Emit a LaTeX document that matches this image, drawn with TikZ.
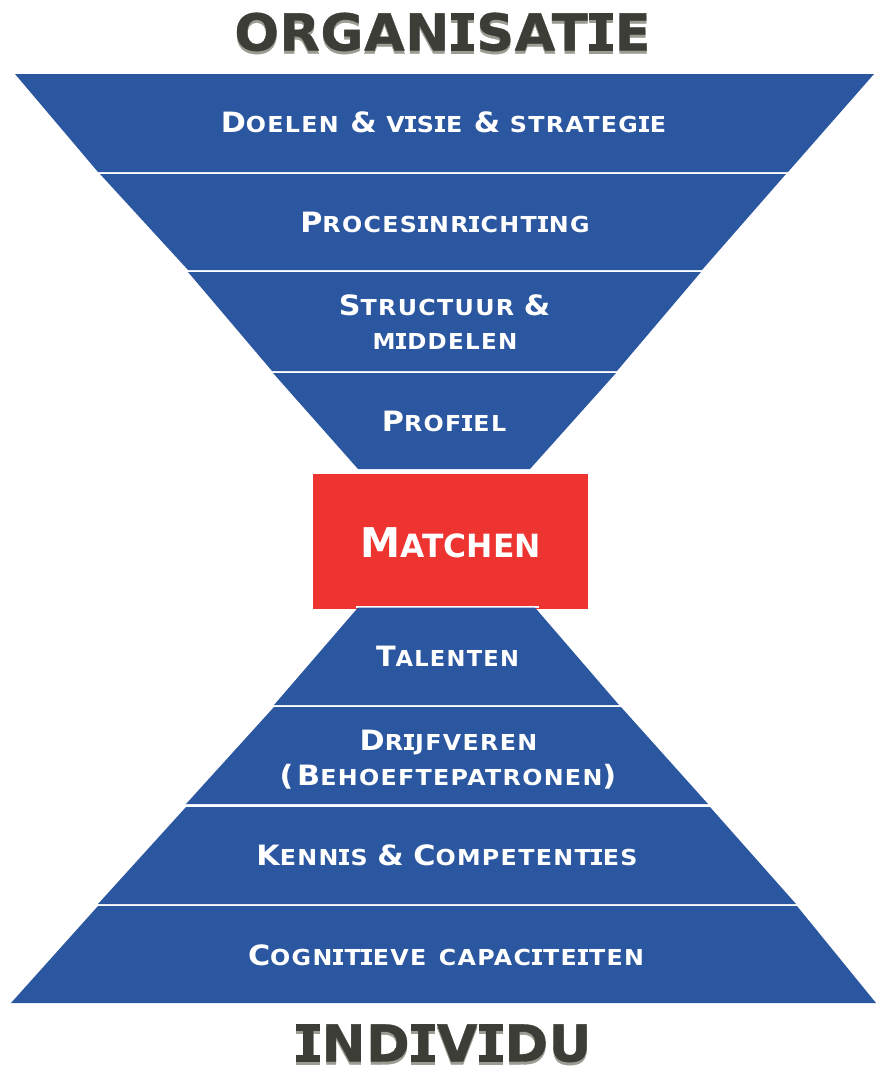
\documentclass[tikz,border=0pt]{standalone}
\usepackage{fontspec}
\setmainfont{DejaVu Sans}[BoldFont=* Bold]
\newfontfamily\labelfont{DejaVu Sans Bold}[LetterSpace=6,FakeStretch=1.08]
\newfontfamily\matchfont{DejaVu Sans Bold}[LetterSpace=0.5,FakeStretch=0.98]
\newfontfamily\titlefont{DejaVu Sans Bold}[FakeBold=0.7,LetterSpace=1,FakeStretch=1.03]
\newcommand{\vI}{\mbox{\kern.03em\rlap{\rule{.46em}{.135em}}\rlap{\rule[.594em]{.46em}{.135em}}\kern.044em I\kern.074em}}
\newcommand{\bgl}[1]{{\fontsize{28}{28}\selectfont #1}}
\newcommand{\bgm}[1]{{\fontsize{41}{41}\selectfont #1}}
\newcommand{\shadowed}[1]{\rlap{\raisebox{-3pt}{\color{fnshadow}#1}}#1}
\definecolor{fnblue}{HTML}{2B56A0}
\definecolor{fnred}{HTML}{EE3431}
\definecolor{fndark}{HTML}{3C3D36}
\definecolor{fnshadow}{HTML}{9C9C92}
\tikzset{
  x=1pt,y=-1pt,
  layer/.style={fill=fnblue},
  lab/.style={anchor=base,text=white,inner sep=0pt,font=\labelfont\fontsize{22}{22}\selectfont},
  ttl/.style={anchor=base,text=fndark,inner sep=0pt,font=\titlefont\fontsize{51}{51}\selectfont},
}
\begin{document}
\begin{tikzpicture}
\useasboundingbox (0,0) rectangle (876,1068);
\fill[white] (0,0) rectangle (876,1068);
% upper funnel
\fill[layer] (15,74) -- (874,74) -- (788,172) -- (98,172) -- cycle;
\fill[layer] (100,174) -- (786,174) -- (702,270) -- (188,270) -- cycle;
\fill[layer] (188,272) -- (701,272) -- (617,371) -- (272,371) -- cycle;
\fill[layer] (273,373) -- (616,373) -- (530,469) -- (358,469) -- cycle;
% centre
\node[fill=fnred,minimum width=275pt,minimum height=135pt,inner sep=0pt,anchor=north west] (match) at (313,474) {};
\node[lab,font=\matchfont\fontsize{32}{32}\selectfont] (matchlab) at (450.5,557) {\bgm{M}ATCHEN};
% lower funnel
\fill[white] (356,606) rectangle (539,608);
\fill[layer] (358,607.6) -- (535,607.6) -- (619,705) -- (274,705) -- cycle;
\fill[layer] (274,707) -- (621,707) -- (708,804) -- (186,804) -- cycle;
\fill[layer] (186,807) -- (710,807) -- (796,904) -- (98,904) -- cycle;
\fill[layer] (98,906) -- (797,906) -- (876,1003) -- (11,1003) -- cycle;
% titles
\node[ttl] (org) at (442.5,50.5) {\shadowed{ORGAN\vI SAT\vI E}};
\node[ttl] (ind) at (443,1061.5) {\shadowed{\vI ND\vI V\vI DU}};
% labels
\node[lab] (l1) at (443.5,132) {\bgl{D}OELEN\kern2pt{} \bgl{\&} V\vI S\vI E\kern2pt{} \bgl{\&} STRATEG\vI E};
\node[lab] (l2) at (445,232) {\bgl{P}ROCES\vI NR\vI CHT\vI NG};
\node[lab] (l3a) at (444.5,315) {\bgl{S}TRUCTUUR \bgl{\&}};
\node[lab,xscale=.97] (l3b) at (445,349) {M\vI DDELEN};
\node[lab] (l4) at (444,431) {\bgl{P}ROF\vI EL};
\node[lab,xscale=.95] (l5) at (447.5,666) {\bgl{T}ALENTEN};
\node[lab] (l6a) at (448.5,750) {\bgl{D}R\vI JFVEREN};
\node[lab] (l6b) at (448,785) {\bgl{(}\,\bgl{B}EHOEFTEPATRONEN\bgl{)}};
\node[lab] (l7) at (447,865) {\bgl{K}ENN\vI S \bgl{\&} \bgl{C}OMPETENT\vI ES};
\node[lab] (l8) at (446,965) {\bgl{C}OGN\vI T\vI EVE\kern3pt{} CAPAC\vI TE\vI TEN};
\end{tikzpicture}
\end{document}
